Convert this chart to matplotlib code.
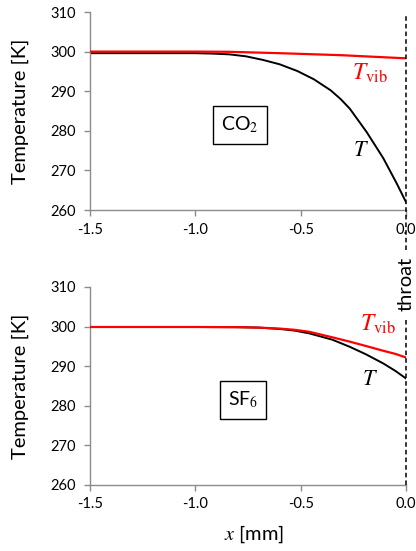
import matplotlib
matplotlib.use("Agg")
import matplotlib.pyplot as plt
import matplotlib.transforms as mtransforms

plt.rcParams['font.family'] = ['Lato', 'DejaVu Sans']
plt.rcParams['mathtext.fontset'] = 'stix'
plt.rcParams['axes.unicode_minus'] = False

# ---- data ----
x_co2_T = [-1.5, -1.2, -1.0, -0.92, -0.838, -0.759, -0.679, -0.6, -0.516, -0.437,
           -0.357, -0.31, -0.267, -0.187, -0.108, -0.044, 0.0]
T_co2 = [299.6, 299.6, 299.6, 299.5, 299.3, 298.8, 297.9, 296.8, 295.1, 293.0,
         290.2, 288.0, 285.6, 279.7, 273.1, 266.7, 262.0]
x_co2_Tv = [-1.5, -1.0, -0.84, -0.6, -0.31, 0.0]
Tvib_co2 = [300.0, 300.0, 299.95, 299.6, 299.1, 298.3]

x_sf6 = [-1.5, -1.0, -0.8, -0.7, -0.6, -0.53, -0.46, -0.35, -0.267, -0.19, -0.108, -0.05, 0.0]
T_sf6 = [299.9, 299.9, 299.85, 299.75, 299.4, 299.0, 298.3, 296.7, 294.9, 293.0, 290.7, 288.8, 286.9]
Tvib_sf6 = [299.9, 299.9, 299.85, 299.75, 299.5, 299.2, 298.7, 297.3, 296.2, 295.1, 293.9, 293.1, 292.2]

xticks = [-1.5, -1.0, -0.5, 0.0]
xtick_labels = ["-1.5", "-1.0", "-0.5", "0.0"]
yticks = [260, 270, 280, 290, 300, 310]

W, H = 416, 551
fig = plt.figure(figsize=(W / 100, H / 100), dpi=100)

def make_axes(top_px, bottom_px):
    left, right = 90, 406
    return fig.add_axes([left / W, 1 - bottom_px / H, (right - left) / W, (bottom_px - top_px) / H])

ax1 = make_axes(12, 210)
ax2 = make_axes(287, 485)

def px(ax, xp, yp):
    # figure pixel (from top-left) -> axes fraction
    l, b, w, h = ax.get_position().bounds
    return (xp / W - l) / w, ((1 - yp / H) - b) / h

gray = '#8c8c8c'
for ax in (ax1, ax2):
    ax.set_xlim(-1.5, 0.0)
    ax.set_ylim(260, 310)
    ax.set_xticks(xticks)
    ax.set_xticklabels(xtick_labels)
    ax.set_yticks(yticks)
    for s in ('top', 'right'):
        ax.spines[s].set_visible(False)
    for s in ('left', 'bottom'):
        ax.spines[s].set_color(gray)
        ax.spines[s].set_linewidth(1.0)
    ax.tick_params(axis='both', colors=gray, labelcolor='black', labelsize=10.5,
                   length=4, width=1.0, direction='out')
    ax.tick_params(axis='x', pad=5)
    ax.tick_params(axis='y', pad=6)
    ax.set_ylabel("Temperature [K]", fontsize=14.5)
    ax.yaxis.set_label_coords(px(ax, 20, 0)[0], 0.5)
    ax.yaxis.label.set_va('center')
    ax.patch.set_visible(False)

box = dict(boxstyle='square,pad=0.42', facecolor='white', edgecolor='black', linewidth=1.0)

# top panel: CO2
ax1.plot(x_co2_Tv, Tvib_co2, color='#ff0000', lw=1.6, zorder=3)
ax1.plot(x_co2_T, T_co2, color='black', lw=1.4, zorder=2)
ax1.text(*px(ax1, 240, 125), r"CO$_2$", transform=ax1.transAxes, fontsize=14,
         ha='center', va='center', bbox=box)
ax1.text(*px(ax1, 370, 73), r"$T_{\mathrm{vib}}$", transform=ax1.transAxes, color='#ff0000',
         fontsize=17, ha='center', va='center')
ax1.text(*px(ax1, 361, 150), r"$T$", transform=ax1.transAxes, color='black',
         fontsize=16, ha='center', va='center')

# bottom panel: SF6
ax2.plot(x_sf6, Tvib_sf6, color='#ff0000', lw=1.6, zorder=3)
ax2.plot(x_sf6, T_sf6, color='black', lw=1.4, zorder=2)
ax2.text(*px(ax2, 243, 400), r"SF$_6$", transform=ax2.transAxes, fontsize=14,
         ha='center', va='center', bbox=box)
ax2.text(*px(ax2, 378, 324), r"$T_{\mathrm{vib}}$", transform=ax2.transAxes, color='#ff0000',
         fontsize=17, ha='center', va='center')
ax2.text(*px(ax2, 370, 379), r"$T$", transform=ax2.transAxes, color='black',
         fontsize=16, ha='center', va='center')
ax2.set_xlabel(r"$x$ [mm]", fontsize=14.5)
ax2.xaxis.set_label_coords(*px(ax2, 254, 534))
ax2.xaxis.label.set_va('center')

# throat dashed line
ax1.axvline(0.0, ymin=px(ax1, 0, 250)[1], ymax=px(ax1, 0, 15)[1], color='black', lw=1.1,
            ls=(0, (3, 2)), clip_on=False, zorder=4)
ax2.axvline(0.0, ymin=0.0, ymax=px(ax2, 0, 318)[1], color='black', lw=1.1,
            ls=(0, (3, 2)), clip_on=False, zorder=4)
trans = mtransforms.blended_transform_factory(ax2.transData, fig.transFigure)
fig.text(0.0, 1 - 284 / H, "throat", transform=trans, rotation=90, fontsize=14.5,
         ha='center', va='center')

fig.savefig("out.png", dpi=100)
